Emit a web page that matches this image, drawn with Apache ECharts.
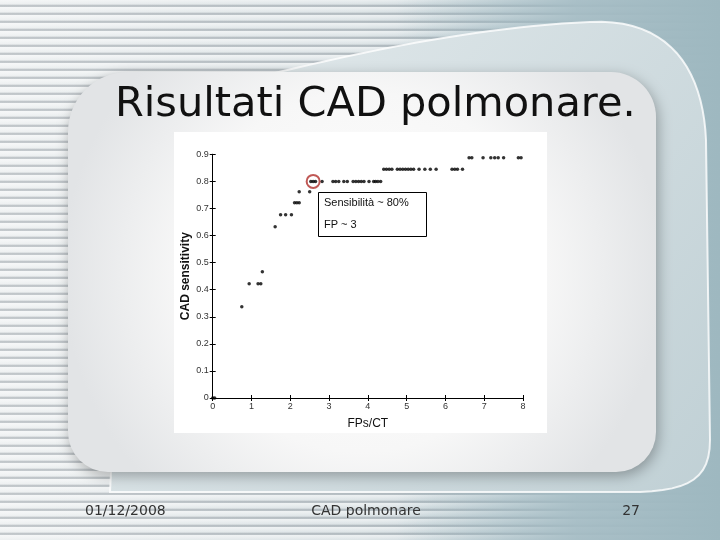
<!DOCTYPE html>
<html><head><meta charset="utf-8">
<script src="https://cdn.jsdelivr.net/npm/echarts@6/dist/echarts.min.js"></script>
<style>html,body{margin:0;padding:0;background:#e6eaec}#c{width:720px;height:540px}</style>
</head><body><div id="c"></div>
<script>
// ---- data ----
const fpsPerCT = [0, 0.05, 0.75, 0.94, 1.17, 1.24, 1.28, 1.61, 1.75, 1.88, 2.03, 2.11, 2.17, 2.23, 2.23, 2.50,
  2.53, 2.59, 2.65, 2.82, 3.10, 3.17, 3.25, 3.38, 3.47, 3.62, 3.69, 3.76, 3.83, 3.90, 4.03, 4.15, 4.20, 4.26, 4.33,
  4.41, 4.48, 4.55, 4.62, 4.76, 4.83, 4.90, 4.97, 5.04, 5.11, 5.18, 5.32, 5.47, 5.61, 5.76, 6.17, 6.24, 6.31, 6.44,
  6.61, 6.68, 6.97, 7.17, 7.27, 7.36, 7.50, 7.88, 7.95];
const sensitivity = [0, 0, 0.337, 0.422, 0.422, 0.422, 0.466, 0.632, 0.677, 0.677, 0.677, 0.721, 0.721, 0.721, 0.762, 0.762,
  0.80, 0.80, 0.80, 0.80, 0.80, 0.80, 0.80, 0.80, 0.80, 0.80, 0.80, 0.80, 0.80, 0.80, 0.80, 0.80, 0.80, 0.80, 0.80,
  0.845, 0.845, 0.845, 0.845, 0.845, 0.845, 0.845, 0.845, 0.845, 0.845, 0.845, 0.845, 0.845, 0.845, 0.845, 0.845, 0.845, 0.845, 0.845,
  0.887, 0.887, 0.887, 0.887, 0.887, 0.887, 0.887, 0.887, 0.887];
const highlightPoint = [2.59, 0.80];
const xTicks = [0, 1, 2, 3, 4, 5, 6, 7, 8];
const yTicks = [0, 0.1, 0.2, 0.3, 0.4, 0.5, 0.6, 0.7, 0.8, 0.9];
const titleText = 'Risultati CAD polmonare.';
const annotationLines = ['Sensibilità ~ 80%', 'FP ~ 3'];
const footer = ['01/12/2008', 'CAD polmonare', '27'];

// ---- decoration ----
const stripeStops = [];
const period = 8 / 540;
for (let i = 0; i * period < 1; i++) {
  const o = i * period;
  const s = [[0, 'rgba(255,255,255,0.5)'], [0.5, 'rgba(255,255,255,0.1)'], [0.62, 'rgba(95,105,115,0.3)'], [0.8, 'rgba(95,105,115,0.3)'], [0.9, 'rgba(255,255,255,0.5)']];
  s.forEach(([f, c]) => { const off = o + f * period; if (off <= 1) stripeStops.push({offset: off, color: c}); });
}
function bez(p0, p1, p2, p3, n) {
  const out = [];
  for (let i = 0; i <= n; i++) {
    const t = i / n, u = 1 - t;
    out.push([u*u*u*p0[0] + 3*u*u*t*p1[0] + 3*u*t*t*p2[0] + t*t*t*p3[0],
              u*u*u*p0[1] + 3*u*u*t*p1[1] + 3*u*t*t*p2[1] + t*t*t*p3[1]]);
  }
  return out;
}
const backShape = [].concat(
  bez([130, 110], [300, 65], [450, 28], [590, 22], 30),
  bez([590, 22], [670, 18], [703, 70], [706, 140], 20),
  [[710, 440]],
  bez([710, 440], [710, 478], [690, 490], [640, 492], 12),
  [[110, 492]]
);

const chart = echarts.init(document.getElementById('c'));
const pts = fpsPerCT.map((x, i) => [x, sensitivity[i]]);
const fontA = "'Liberation Sans', Arial, sans-serif";
const fontT = "'DejaVu Sans', sans-serif";

chart.setOption({
  animation: false,
  backgroundColor: '#e4e8ea',
  title: {
    text: titleText, left: 110, top: 79,
    textStyle: {fontFamily: fontT, fontWeight: 'normal', fontSize: 41.5, color: '#111'}
  },
  graphic: [
    {type: 'rect', z: -100, shape: {x: 0, y: 0, width: 720, height: 540},
      style: {fill: new echarts.graphic.LinearGradient(0, 0, 1, 0, [{offset: 0, color: '#eceff0'}, {offset: 0.5, color: '#d8e0e3'}, {offset: 1, color: '#a6bdc5'}])}},
    {type: 'rect', z: -99, shape: {x: 0, y: 0, width: 720, height: 540},
      style: {fill: new echarts.graphic.LinearGradient(0, 0, 0, 1, stripeStops)}},
    {type: 'rect', z: -98, shape: {x: 0, y: 0, width: 720, height: 540},
      style: {fill: new echarts.graphic.LinearGradient(0, 0, 1, 0, [{offset: 0, color: 'rgba(166,189,197,0)'}, {offset: 0.55, color: 'rgba(166,189,197,0)'}, {offset: 0.8, color: 'rgba(166,189,197,0.92)'}, {offset: 1, color: 'rgba(158,184,192,1)'}])}},
    {type: 'polygon', z: -97, shape: {points: backShape},
      style: {fill: new echarts.graphic.LinearGradient(0, 0, 1, 1, [{offset: 0, color: '#e6ecee'}, {offset: 1, color: '#c0d0d5'}]), stroke: 'rgba(255,255,255,0.8)', lineWidth: 2}},
    {type: 'rect', z: -96, shape: {x: 68, y: 72, width: 588, height: 400, r: [60, 45, 40, 40]},
      style: {fill: new echarts.graphic.RadialGradient(0.5, 0.5, 0.75, [{offset: 0, color: '#ffffff'}, {offset: 0.6, color: '#f7f7f7'}, {offset: 1, color: '#e2e4e6'}]),
        shadowBlur: 14, shadowColor: 'rgba(0,0,0,0.3)', shadowOffsetY: 4, shadowOffsetX: 2}},
    {type: 'rect', z: -95, shape: {x: 174, y: 132, width: 373, height: 301}, style: {fill: '#ffffff'}},
    {type: 'rect', z: 100, shape: {x: 318.5, y: 192.5, width: 108, height: 44}, style: {fill: '#ffffff', stroke: '#000', lineWidth: 1}},
    {type: 'text', z: 101, x: 324, y: 203, style: {text: annotationLines[0], fontFamily: fontA, fontSize: 11, fill: '#111', textVerticalAlign: 'middle'}},
    {type: 'text', z: 101, x: 324, y: 225, style: {text: annotationLines[1], fontFamily: fontA, fontSize: 11, fill: '#111', textVerticalAlign: 'middle'}},
    {type: 'text', z: 10, x: 85, y: 511, style: {text: footer[0], fontFamily: fontT, fontSize: 14, fill: '#333', textVerticalAlign: 'middle'}},
    {type: 'text', z: 10, x: 366, y: 511, style: {text: footer[1], fontFamily: fontT, fontSize: 14, fill: '#333', textAlign: 'center', textVerticalAlign: 'middle'}},
    {type: 'text', z: 10, x: 640, y: 511, style: {text: footer[2], fontFamily: fontT, fontSize: 14, fill: '#333', textAlign: 'right', textVerticalAlign: 'middle'}}
  ],
  grid: {left: 212.7, top: 154.3, right: 197, bottom: 142, show: false},
  xAxis: [
    {type: 'value', min: 0, max: 8, interval: 1, position: 'bottom',
      name: 'FPs/CT', nameLocation: 'middle', nameGap: 20,
      nameTextStyle: {fontFamily: fontA, fontSize: 12, color: '#111'},
      axisLine: {lineStyle: {color: '#000', width: 1}},
      axisTick: {inside: true, length: 3, lineStyle: {color: '#000'}},
      axisLabel: {fontFamily: fontA, fontSize: 9, color: '#333', margin: 4, formatter: v => xTicks.includes(v) ? String(v) : ''},
      splitLine: {show: false}},
    {type: 'value', min: 0, max: 8, interval: 1, position: 'top',
      axisLine: {lineStyle: {color: '#000', width: 1}},
      axisTick: {inside: true, length: 3, lineStyle: {color: '#000'}},
      axisLabel: {show: false}, splitLine: {show: false}}
  ],
  yAxis: [
    {type: 'value', min: 0, max: 0.9, interval: 0.1, position: 'left',
      name: 'CAD sensitivity', nameLocation: 'middle', nameGap: 21,
      nameTextStyle: {fontFamily: fontA, fontSize: 12, fontWeight: 'bold', color: '#111'},
      axisLine: {lineStyle: {color: '#000', width: 1}},
      axisTick: {inside: true, length: 3, lineStyle: {color: '#000'}},
      axisLabel: {fontFamily: fontA, fontSize: 9, color: '#333', margin: 4,
        formatter: v => { const t = yTicks.find(y => Math.abs(y - v) < 1e-6); return t === undefined ? '' : (t === 0 ? '0' : t.toFixed(1)); }},
      splitLine: {show: false}},
    {type: 'value', min: 0, max: 0.9, interval: 0.1, position: 'right',
      axisLine: {lineStyle: {color: '#000', width: 1}},
      axisTick: {inside: true, length: 3, lineStyle: {color: '#000'}},
      axisLabel: {show: false}, splitLine: {show: false}}
  ],
  series: [
    {type: 'scatter', data: pts, symbol: 'circle', symbolSize: 3.5, itemStyle: {color: '#000'}, z: 5},
    {type: 'scatter', data: [highlightPoint], symbol: 'circle', symbolSize: 13,
      itemStyle: {color: 'rgba(0,0,0,0)', borderColor: '#b0302c', borderWidth: 2}, z: 6}
  ]
});
</script></body></html>
